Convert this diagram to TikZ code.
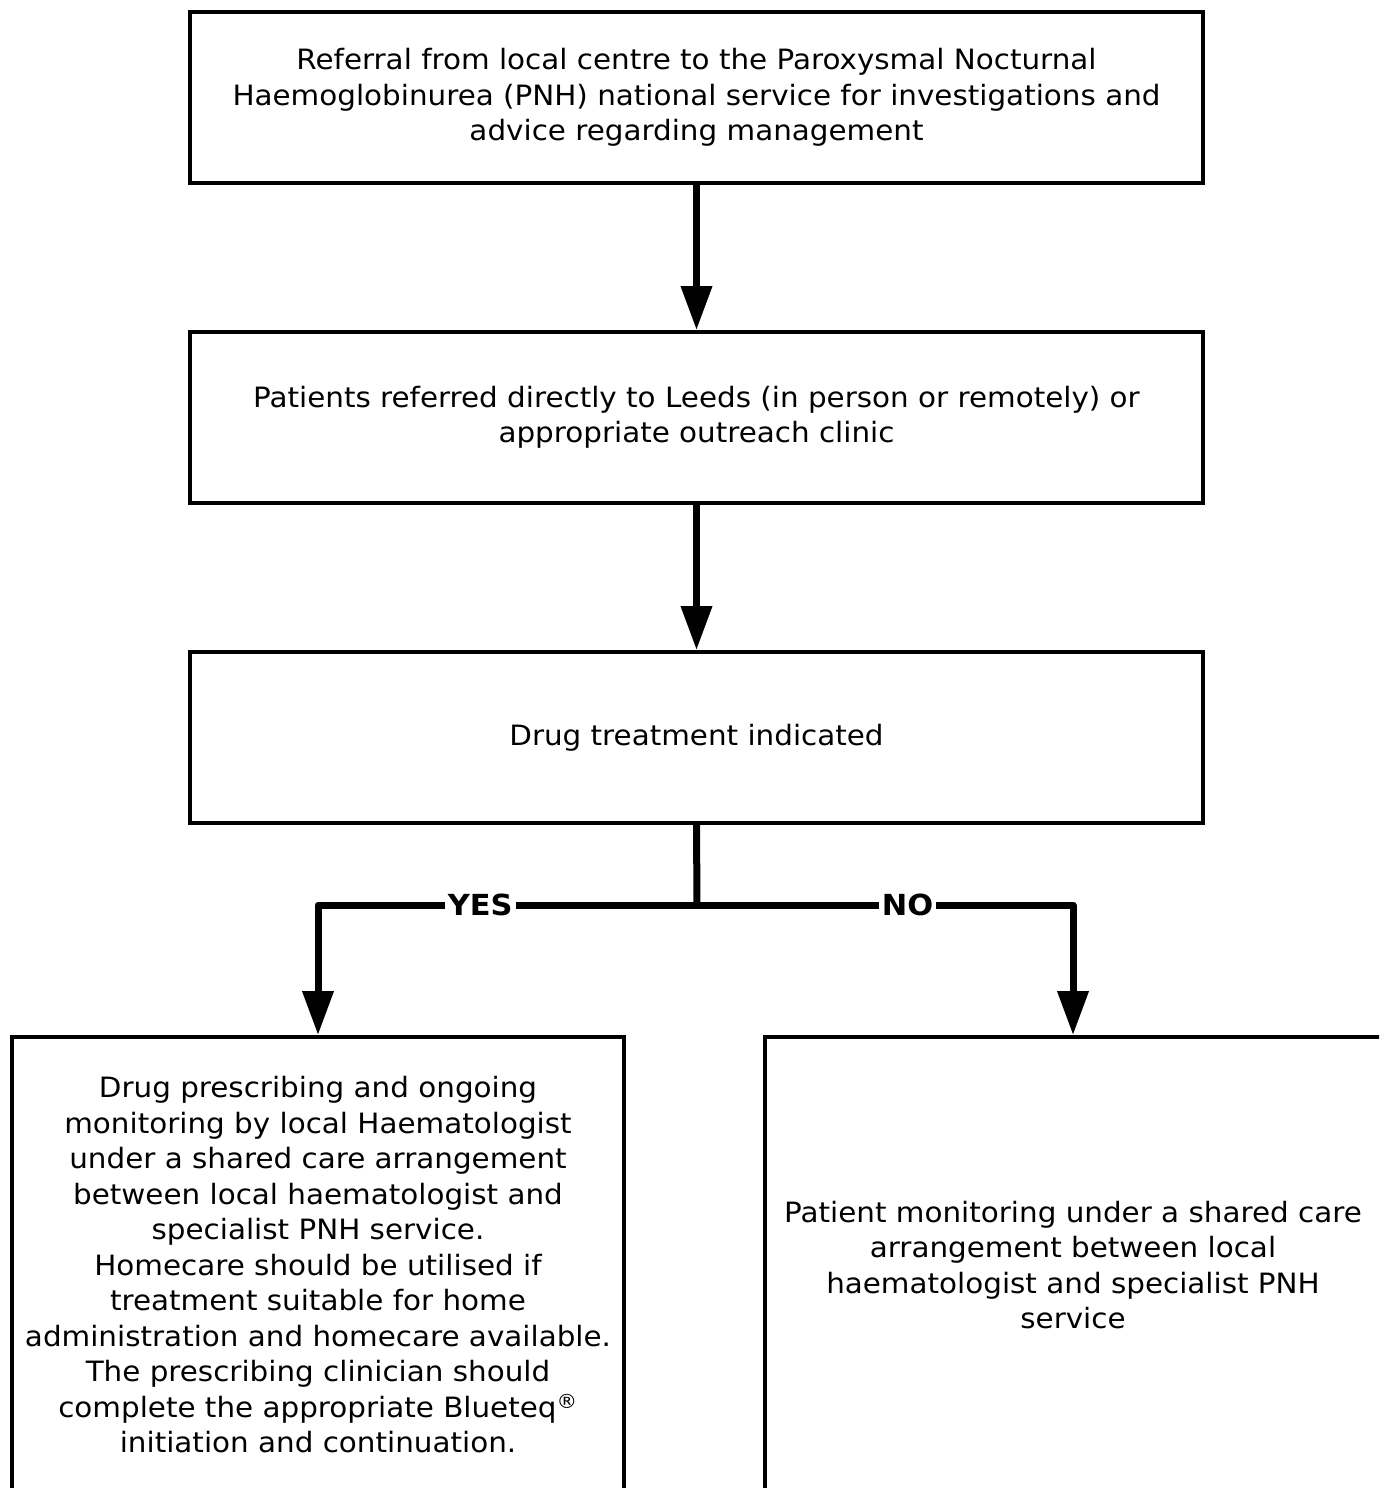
\documentclass[tikz,border=0pt]{standalone}
\usepackage{fontspec}
\setmainfont{DejaVu Sans}[FakeStretch=1.05]
\usetikzlibrary{arrows.meta}
\tikzset{
  box/.style={draw, line width=4pt, align=center, inner sep=0pt,
    font=\fontsize{28pt}{35.5pt}\selectfont},
  txt/.style={align=center, inner sep=0pt, font=\fontsize{28pt}{35.5pt}\selectfont},
  conn/.style={line width=7pt, line join=round, -{Triangle[width=30pt,length=44pt]}},
  plain/.style={line width=7pt, line join=round},
  lbl/.style={fill=white, inner sep=3pt, font=\fontsize{29pt}{30pt}\selectfont\bfseries}
}
\begin{document}
\begin{tikzpicture}[x=1pt,y=-1pt]
\useasboundingbox (0,0) rectangle (1379,1488);
\clip (0,0) rectangle (1379,1488);
\fill[white] (0,0) rectangle (1379,1488);
\node[box, minimum width=1013pt, minimum height=171pt] (b1) at (696.5,97.5)
  {Referral from local centre to the Paroxysmal Nocturnal\\
   Haemoglobinurea (PNH) national service for investigations and\\
   advice regarding management};
\node[box, minimum width=1013pt, minimum height=171pt] (b2) at (696.5,417.5)
  {Patients referred directly to Leeds (in person or remotely) or\\
   appropriate outreach clinic};
\node[box, minimum width=1013pt, minimum height=171pt] (b3) at (696.5,737.5)
  {Drug treatment indicated};
\node[box, minimum width=612pt, minimum height=456pt] (b4) at (318,1265)
  {Drug prescribing and ongoing\\
   monitoring by local Haematologist\\
   under a shared care arrangement\\
   between local haematologist and\\
   specialist PNH service.\\
   Homecare should be utilised if\\
   treatment suitable for home\\
   administration and homecare available.\\
   The prescribing clinician should\\
   complete the appropriate Blueteq\textsuperscript{®}\\
   initiation and continuation.};
\node[box, minimum width=624pt, minimum height=456pt] (b5) at (1077,1265) {};
\node[txt] (b5t) at (1073,1265)
  {Patient monitoring under a shared care\\
   arrangement between local\\
   haematologist and specialist PNH\\
   service};
\coordinate (j) at (697,905);
\coordinate (b5top) at (1073,1035);
\draw[conn] (b1.south) -- (b2.north);
\draw[conn] (b2.south) -- (b3.north);
\draw[plain] (b3.south) -- (j);
\draw[conn] (j) -| node[lbl, pos=0.286] {YES} (b4.north);
\draw[conn] (j) -| node[lbl, pos=0.28] {NO} (b5top);
\end{tikzpicture}
\end{document}
